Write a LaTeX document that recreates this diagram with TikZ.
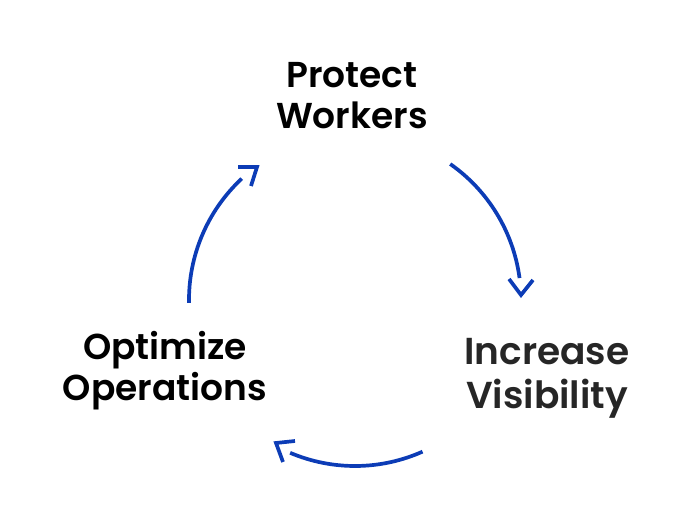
\documentclass[tikz,border=0pt]{standalone}
\usepackage{fontspec}
\setmainfont{Poppins}[BoldFont={Poppins SemiBold}]
\begin{document}
\begin{tikzpicture}[x=1pt,y=1pt,
  lbl/.style={font=\bfseries\fontsize{36}{41}\selectfont, align=center, inner sep=0pt},
  cyc/.style={draw=cycblue, line width=3.7pt},
  chev/.style={draw=cycblue, line width=3.7pt, line join=miter}]
\definecolor{cycblue}{RGB}{12,60,182}
\definecolor{darktxt}{RGB}{38,38,38}
\useasboundingbox (0,0) rectangle (684,516);
\node[lbl] (top) at (352,420) {Protect\\Workers};
\node[lbl, text=darktxt, font=\bfseries\fontsize{37.5}{44}\selectfont] (right) at (547,138) {Increase\\Visibility};
\node[lbl] (left) at (165,145) {Optimize\\Operations};
\coordinate (c) at (355,216);
% arc 1: top -> right
\draw[cyc] (c) ++(55:166) coordinate (a1s) arc (55:7.6:166) coordinate (a1e);
\draw[chev] (509,237) -- (521,221) coordinate (t1) -- (533,236);
% arc 2: right -> left
\draw[cyc] (c) ++(-66:166) coordinate (a2s) arc (-66:-113:166) coordinate (a2e);
\draw[chev] (295,75) -- (276,73) coordinate (t2) -- (283,54);
% arc 3: left -> top
\draw[cyc] (c) ++(181:166) coordinate (a3s) arc (181:133:166) coordinate (a3e);
\draw[chev] (238,349) -- (257,349) coordinate (t3) -- (251,330);
\end{tikzpicture}
\end{document}
